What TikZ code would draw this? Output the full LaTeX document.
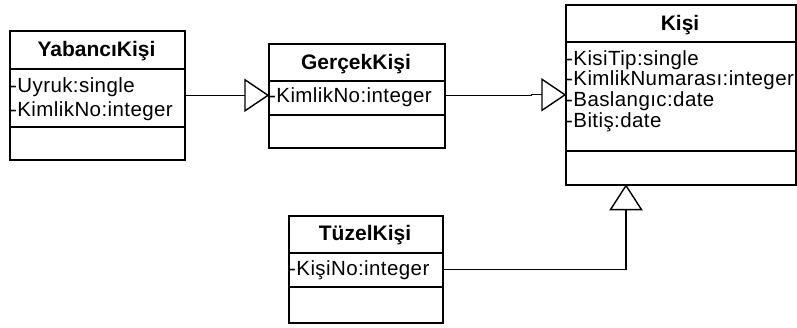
\documentclass[tikz,border=0pt]{standalone}
\usepackage{fontspec}
\setmainfont{Liberation Sans}
\newfontfamily\attrfont[LetterSpace=2]{Liberation Sans}
\usetikzlibrary{calc}
\tikzset{
  box/.style={draw, line width=1.6pt, anchor=north west, inner sep=0pt},
  sep/.style={line width=1.6pt},
  ctitle/.style={anchor=base, inner sep=0pt, font=\fontsize{21}{25}\selectfont\bfseries},
  attr/.style={anchor=base west, inner sep=0pt, font=\attrfont\fontsize{20.5}{24}\selectfont},
  conn/.style={line width=1.1pt},
  tri/.style={line width=1.4pt, line join=miter, fill=white}
}
\begin{document}
\begin{tikzpicture}[x=1pt, y=-1pt]
\useasboundingbox (0,0) rectangle (797,327);
% YabanciKisi
\node[box, minimum width=175pt, minimum height=129pt] (yab) at (9,30) {};
\draw[sep] ($(yab.north west)+(0,39)$) -- ($(yab.north east)+(0,39)$);
\draw[sep] ($(yab.north west)+(0,97)$) -- ($(yab.north east)+(0,97)$);
\node[ctitle] (yabt) at (96.5,56.7) {YabancıKişi};
\node[attr] (yaba1) at (10,92.7) {-Uyruk:single};
\node[attr] (yaba2) at (10,116.7) {-KimlikNo:integer};
% GercekKisi
\node[box, minimum width=176pt, minimum height=104pt] (ger) at (268,43) {};
\draw[sep] ($(ger.north west)+(0,38)$) -- ($(ger.north east)+(0,38)$);
\draw[sep] ($(ger.north west)+(0,72)$) -- ($(ger.north east)+(0,72)$);
\node[ctitle] (gert) at (356,69.3) {GerçekKişi};
\node[attr] (gera1) at (269,102.7) {-KimlikNo:integer};
% Kisi
\node[box, minimum width=230pt, minimum height=180pt] (kisi) at (565,4) {};
\draw[sep] ($(kisi.north west)+(0,38)$) -- ($(kisi.north east)+(0,38)$);
\draw[sep] ($(kisi.north west)+(0,147)$) -- ($(kisi.north east)+(0,147)$);
\node[ctitle] (kisit) at (680,30.7) {Kişi};
\node[attr] (kisia1) at (566,65) {-KisiTip:single};
\node[attr] (kisia2) at (566,85.5) {-KimlikNumarası:integer};
\node[attr] (kisia3) at (566,106.3) {-Baslangıc:date};
\node[attr] (kisia4) at (566,127) {-Bitiş:date};
% TuzelKisi
\node[box, minimum width=154pt, minimum height=107pt] (tuz) at (288,215) {};
\draw[sep] ($(tuz.north west)+(0,38)$) -- ($(tuz.north east)+(0,38)$);
\draw[sep] ($(tuz.north west)+(0,72)$) -- ($(tuz.north east)+(0,72)$);
\node[ctitle] (tuzt) at (365,240) {TüzelKişi};
\node[attr] (tuza1) at (289,275) {-KişiNo:integer};
% connector end points
\coordinate (t1) at (yab.east -| ger.west);
\coordinate (t2) at (kisi.west);
\coordinate (kp) at ($(kisi.south west)+(61,0)$);
% connectors
\draw[conn] (yab.east) -- ($(t1)+(-23,0)$);
\draw[tri] (t1) -- ++(-23,-15.5) -- ++(0,31) -- cycle;
\draw[conn] (ger.east) -- ++(86,0) |- ($(t2)+(-23,0)$);
\draw[tri] (t2) -- ++(-23,-15.5) -- ++(0,31) -- cycle;
\draw[conn] (tuz.east) -| ($(kp)+(0,24)$);
\draw[tri] (kp) -- ++(-15.5,24) -- ++(31,0) -- cycle;
\end{tikzpicture}
\end{document}
